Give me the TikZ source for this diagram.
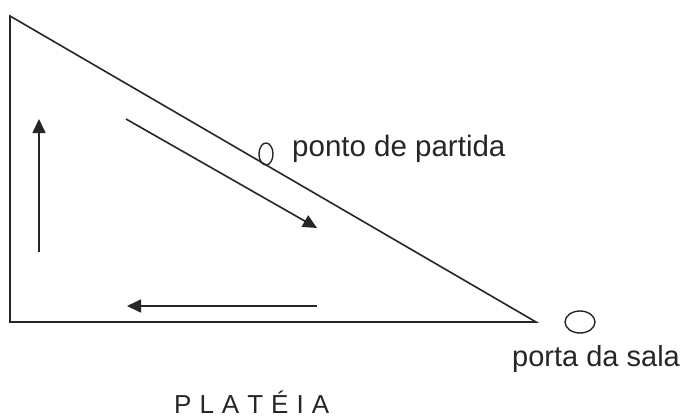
\documentclass[tikz,border=0pt]{standalone}
\usepackage{fontspec}
\setmainfont{Liberation Sans}
\usetikzlibrary{arrows.meta,shapes.geometric}
\begin{document}
\begin{tikzpicture}[x=1pt,y=-1pt,
  edge/.style={line width=1.6pt,draw=black!85},
  flow/.style={line width=1.6pt,draw=black!85,-{Triangle[length=14pt,width=13pt]}},
  marker/.style={draw=black!85,line width=1.4pt,ellipse,inner sep=0pt},
  lbl/.style={inner sep=0pt,anchor=base west,text=black!85}]
\useasboundingbox (0,0) rectangle (682,417);
\fill[white] (0,0) rectangle (682,417);
% triangle
\coordinate (A) at (10,16);
\coordinate (B) at (10,322);
\coordinate (C) at (536,322);
\draw[edge,line join=miter] (A) -- (B) -- (C) -- cycle;
% arrows
\coordinate (v1) at (39,252);
\coordinate (v2) at (39,119);
\draw[flow] (v1) -- (v2);
\coordinate (d1) at (126,119);
\coordinate (d2) at (317,228);
\draw[flow] (d1) -- (d2);
\coordinate (h1) at (317,306);
\coordinate (h2) at (127,306);
\draw[flow] (h1) -- (h2);
% markers
\node[marker,minimum width=14pt,minimum height=22pt] (start) at (266,154) {};
\node[marker,minimum width=30pt,minimum height=22pt] (door) at (580,322) {};
% labels
\node[lbl,font=\fontsize{29.5}{34}\selectfont] (startlbl) at (292,156) {ponto de partida};
\node[lbl,font=\fontsize{29}{34}\selectfont] (doorlbl) at (512,366) {porta da sala};
\node[lbl,font=\fontsize{26}{30}\selectfont] (plateia) at (174,413) {P\kern8pt L\kern8pt A\kern8pt T\kern8pt É\kern8pt I\kern8pt A};
\end{tikzpicture}
\end{document}
